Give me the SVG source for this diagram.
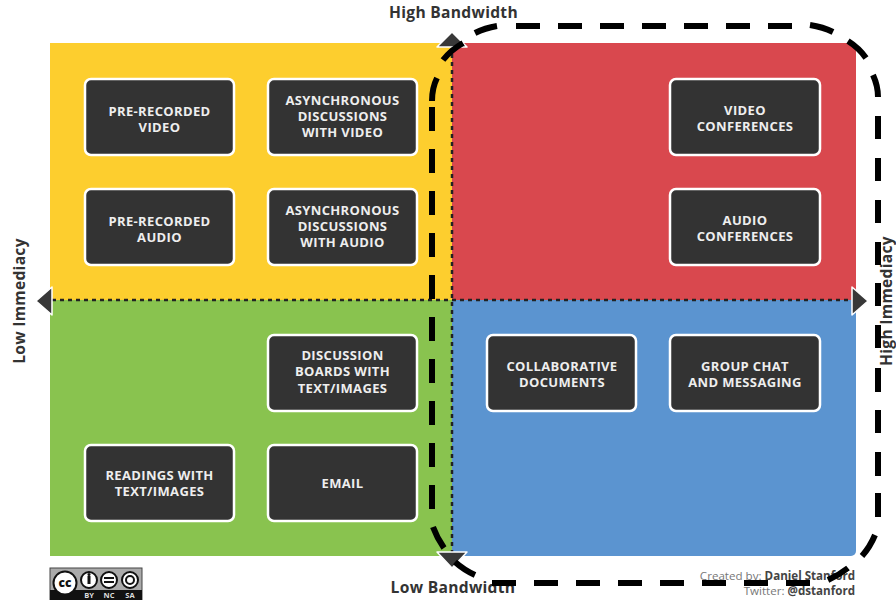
<svg xmlns="http://www.w3.org/2000/svg" width="896" height="600" viewBox="0 0 896 600">
<style>
text{font-family:"Open Sans","Liberation Sans",sans-serif}
.box{fill:#333;stroke:#fff;stroke-width:2.5}
.lbl{fill:#eee;font-size:13px;font-weight:700;text-anchor:middle;letter-spacing:.35px}
.axis{fill:#333;font-size:15.6px;font-weight:700;text-anchor:middle;letter-spacing:.3px}
.tri{fill:#383838;stroke:#fff;stroke-width:1.5;stroke-linejoin:round}
.dot{fill:none;stroke:#222;stroke-width:2.5;stroke-dasharray:4 4}
.cc{fill:#fff;stroke:#111;stroke-width:2}
.cct{fill:#ddd;font-size:7.5px;font-weight:700;text-anchor:middle}
</style>
<rect width="896" height="600" fill="#fff"/>
<g id="quadrants">
<rect x="50" y="43" width="402" height="257" fill="#fdce2e"/>
<path d="M452 43H851a5 5 0 0 1 5 5V300H452Z" fill="#d9484e"/>
<rect x="50" y="300" width="402" height="256" fill="#89c34f"/>
<path d="M452 300H856V551a5 5 0 0 1-5 5H452Z" fill="#5b94d0"/>
</g>
<g id="axes">
<path class="dot" d="M52 300H852"/>
<path class="dot" d="M452 46V552"/>
<path class="tri" d="M452 32L467 47H437Z"/>
<path class="tri" d="M452 568L467 552H437Z"/>
<path class="tri" d="M36 301L52 287V315Z"/>
<path class="tri" d="M868 301L852 287V315Z"/>
<text class="axis" x="453.500" y="18">High Bandwidth</text>
<text class="axis" x="453" y="593">Low Bandwidth</text>
<text class="axis" transform="translate(25 301) rotate(-90)">Low Immediacy</text>
<text class="axis" transform="translate(892 301) rotate(-90)">High Immediacy</text>
</g>
<g id="n1"><rect class="box" x="85" y="79" width="149" height="76" rx="6"/><text class="lbl" x="159.500" y="116">PRE-RECORDED</text><text class="lbl" x="159.500" y="132">VIDEO</text></g>
<g id="n2"><rect class="box" x="268" y="79" width="149" height="76" rx="6"/><text class="lbl" x="342.500" y="105">ASYNCHRONOUS</text><text class="lbl" x="342.500" y="121">DISCUSSIONS</text><text class="lbl" x="342.500" y="137">WITH VIDEO</text></g>
<g id="n3"><rect class="box" x="670" y="79" width="150" height="76" rx="6"/><text class="lbl" x="745" y="115">VIDEO</text><text class="lbl" x="745" y="131">CONFERENCES</text></g>
<g id="n4"><rect class="box" x="85" y="189" width="149" height="76" rx="6"/><text class="lbl" x="159.500" y="226">PRE-RECORDED</text><text class="lbl" x="159.500" y="242">AUDIO</text></g>
<g id="n5"><rect class="box" x="268" y="189" width="149" height="76" rx="6"/><text class="lbl" x="342.500" y="215">ASYNCHRONOUS</text><text class="lbl" x="342.500" y="231">DISCUSSIONS</text><text class="lbl" x="342.500" y="247">WITH AUDIO</text></g>
<g id="n6"><rect class="box" x="670" y="189" width="150" height="76" rx="6"/><text class="lbl" x="745" y="225">AUDIO</text><text class="lbl" x="745" y="241">CONFERENCES</text></g>
<g id="n7"><rect class="box" x="268" y="335" width="149" height="76" rx="6"/><text class="lbl" x="342.500" y="360">DISCUSSION</text><text class="lbl" x="342.500" y="376">BOARDS WITH</text><text class="lbl" x="342.500" y="393">TEXT/IMAGES</text></g>
<g id="n8"><rect class="box" x="487" y="335" width="149" height="76" rx="6"/><text class="lbl" x="562" y="371">COLLABORATIVE</text><text class="lbl" x="562" y="387">DOCUMENTS</text></g>
<g id="n9"><rect class="box" x="670" y="335" width="150" height="76" rx="6"/><text class="lbl" x="745" y="371">GROUP CHAT</text><text class="lbl" x="745" y="387">AND MESSAGING</text></g>
<g id="n10"><rect class="box" x="85" y="445" width="149" height="76" rx="6"/><text class="lbl" x="159.500" y="480">READINGS WITH</text><text class="lbl" x="159.500" y="496">TEXT/IMAGES</text></g>
<g id="n11"><rect class="box" x="268" y="445" width="149" height="76" rx="6"/><text class="lbl" x="342.500" y="488">EMAIL</text></g>
<g id="license">
<rect x="50" y="568" width="92" height="32" fill="#aaa" stroke="#444"/>
<rect x="50" y="590" width="92" height="10" fill="#111"/>
<circle class="cc" cx="65" cy="583" r="11.500"/>
<text x="65" y="587" font-size="12" font-weight="800" text-anchor="middle" fill="#111">cc</text>
<circle class="cc" cx="89" cy="580" r="8"/><path d="M87.500 576h3v8h-3Z" fill="#111"/><circle cx="89" cy="574.500" r="1.500" fill="#111"/>
<circle class="cc" cx="109" cy="580" r="8"/><path d="M104 578h10M104 582h10" stroke="#111" stroke-width="2"/>
<circle class="cc" cx="130" cy="580" r="8"/><circle cx="130" cy="580" r="4" fill="none" stroke="#111" stroke-width="2"/>
<text class="cct" x="89" y="598">BY</text><text class="cct" x="109" y="598">NC</text><text class="cct" x="130" y="598">SA</text>
</g>
<g id="credit" font-size="11.600" text-anchor="end" fill="#777">
<text x="855" y="580">Created by: <tspan font-weight="700" fill="#444">Daniel Stanford</tspan></text>
<text x="855" y="595">Twitter: <tspan font-weight="700" fill="#444">@dstanford</tspan></text>
</g>
<g id="connectors">
<path fill="none" stroke="#000" stroke-width="6" d="M475 33Q485 28 497 26M516 26h24M558 26h24M600 26h24M642 26h24M684 26h24M726 26h24M768 26h24M810 25Q823 27 833 32M848 41Q859 48 866 58M873 75Q878 86 878 97M878 116v23M878 158v23M878 200v23M878 242v23M878 283v23M878 325v23M878 368v24M878 410v23M878 452v24M878 493v24M875 535Q870 547 862 556M848 568Q839 575 828 580M810 583h-24M768 583h-24M726 583h-24M684 583h-24M642 583h-24M600 583h-24M558 583h-24M516 583h-24M475 575Q464 570 455 562M444 548Q437 538 433 527M432 509v-24M432 467v-24M432 425v-24M432 383v-24M432 341v-24M432 299v-24M432 257v-24M432 215v-24M432 173v-24M432 131v-24M432 101Q432 88 437 78M443 60Q451 50 463 43"/>
</g>
</svg>
